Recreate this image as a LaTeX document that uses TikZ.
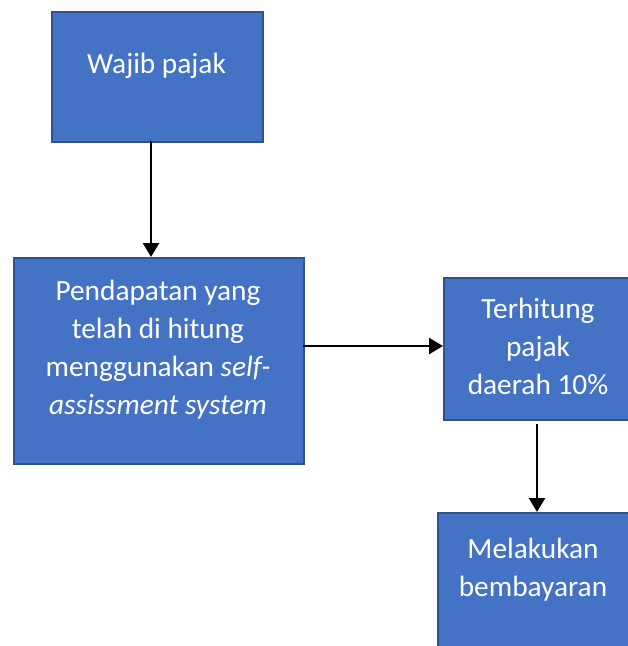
\documentclass[tikz,border=0pt]{standalone}
\usepackage{fontspec}
\setmainfont{Carlito}
\usetikzlibrary{arrows.meta}
\definecolor{boxfill}{HTML}{4472C4}
\definecolor{boxline}{HTML}{2F528F}
\begin{document}
\begin{tikzpicture}[x=0.75pt,y=-0.75pt,
  box/.style={draw=boxline,fill=boxfill,line width=1.3pt,inner sep=0pt,anchor=north west},
  txt/.style={text=white,font=\fontsize{22}{28.5}\selectfont,align=center,inner sep=0pt},
  conn/.style={line width=1.9pt,-{Triangle[width=12pt,length=10.5pt]}}]
\useasboundingbox (0,0) rectangle (628,646);
\clip (0,0) rectangle (628,646);
\node[box,minimum width=211*0.75pt,minimum height=130*0.75pt] (b1) at (51,11) {};
\node[box,minimum width=290*0.75pt,minimum height=206*0.75pt] (b2) at (13,257) {};
\node[box,minimum width=190*0.75pt,minimum height=142*0.75pt] (b3) at (443,277) {};
\node[box,minimum width=192*0.75pt,minimum height=140*0.75pt] (b4) at (437,512) {};
\node[txt] (t1) at (156.5,66) {Wajib pajak};
\node[txt] (t2) at (158,350) {Pendapatan yang\\telah di hitung\\menggunakan \textit{self-}\\\textit{assissment system}};
\node[txt] (t3) at (538,346) {Terhitung\\pajak\\daerah 10\%};
\node[txt] (t4) at (533,570) {Melakukan\\bembayaran};
\coordinate (a1s) at (151,141);
\coordinate (a2s) at (303,346);
\coordinate (a3s) at (537,424);
\draw[conn] (a1s) -- (a1s |- b2.north);
\draw[conn] (a2s) -- (a2s -| b3.west);
\draw[conn] (a3s) -- (a3s |- b4.north);
\end{tikzpicture}
\end{document}
